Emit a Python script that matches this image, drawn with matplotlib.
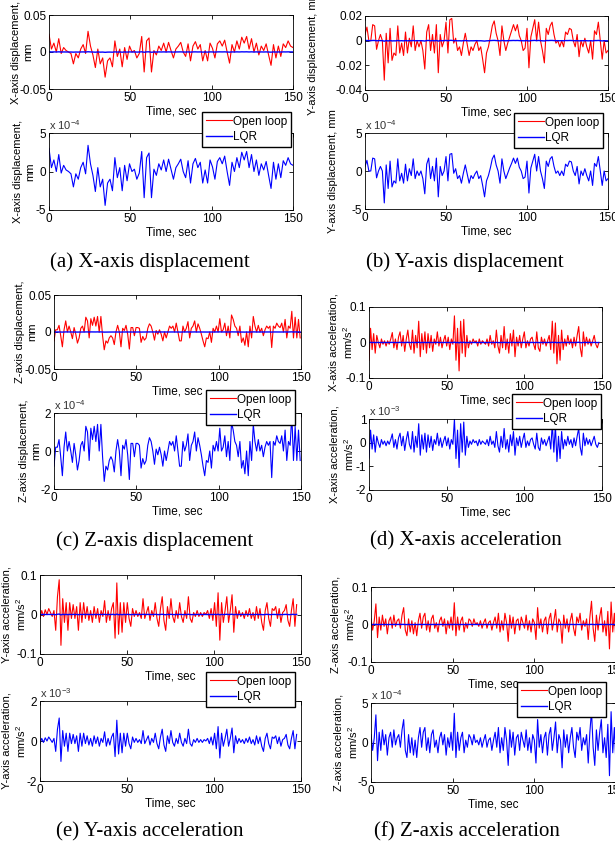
import numpy as np
import matplotlib
matplotlib.use('Agg')
import matplotlib.pyplot as plt

plt.rcParams['font.family'] = ['Liberation Sans', 'DejaVu Sans']
plt.rcParams['font.size'] = 8
plt.rcParams['axes.unicode_minus'] = False
plt.rcParams['mathtext.default'] = 'regular'

# --- data (open loop in 1e-3 units, LQR in 1e-4 / 1e-3 units) ---
open_xdisp_e3 = [24, 4, 12, 0, 18, -2, 6, 2, 0, -2,
                 -16, -2, -8, 4, 10, -2, 28, 8, -4, -21,
                 4, -16, -8, -34, -12, -8, -20, 15, -6, 4,
                 -20, 6, -10, 8, 0, 2, -8, -2, 21, -27,
                 15, 19, -27, 2, -4, 8, 2, 12, 0, 13,
                 2, -8, 4, 8, 13, 0, -6, 11, -12, 8,
                 14, 4, 10, -12, 2, -12, 12, 5, -8, 11,
                 15, 8, 16, 0, -15, 10, 0, 15, 4, 20,
                 12, 21, 4, 18, 0, 12, -4, 8, 2, 11,
                 -4, -18, 10, -8, 8, -6, 11, 6, 15, 8, 6]
lqr_xdisp_e4 = [3.0, 0.5, 1.5, 0.0, 2.2, -0.2, 0.8, 0.2, 0.0, -0.3,
                -2.0, -0.3, -1.0, 0.5, 1.2, -0.3, 3.4, 1.0, -0.5, -2.6,
                0.5, -2.0, -1.0, -4.4, -1.5, -1.0, -2.5, 1.8, -0.8, 0.5,
                -2.5, 0.8, -1.2, 1.0, 0.0, 0.3, -1.0, -0.2, 2.6, -3.4,
                1.8, 2.4, -3.4, 0.3, -0.5, 1.0, 0.2, 1.5, 0.0, 1.6,
                0.3, -1.0, 0.5, 1.0, 1.6, 0.0, -0.8, 1.4, -1.5, 1.0,
                1.7, 0.5, 1.2, -1.5, 0.2, -1.5, 1.5, 0.6, -1.0, 1.3,
                1.8, 1.0, 2.0, 0.0, -1.8, 1.2, 0.0, 1.8, 0.5, 2.5,
                1.5, 2.6, 0.5, 2.2, 0.0, 1.5, -0.5, 1.0, 0.2, 1.3,
                -0.5, -2.2, 1.2, -1.0, 1.0, -0.8, 1.4, 0.8, 1.8, 1.0, 0.8]

open_ydisp_e3 = [5, 11, 0, 0, 13, 12, -7, 0, 5, 0,
                 -32, 6, -18, 10, -16, -10, -12, 12, -10, -2,
                 -12, 7, -10, 2, -5, 12, -8, 0, -5, 0,
                 -8, -23, 7, 13, -8, 5, -10, 13, -26, 5,
                 -5, 0, 15, -10, 17, 18, -2, 2, -8, -5,
                 -12, -2, 6, -3, -12, -5, -8, -3, 0, -8,
                 -5, -15, -26, -10, -5, 3, 12, 16, 6, 0,
                 -12, 12, 0, -8, -2, 3, 8, 13, 8, 13,
                 4, 0, -8, -6, 10, -22, 3, 10, 17, 0,
                 15, 0, -8, -18, 10, 5, 12, 15, 5, -2,
                 0, -5, 0, -5, 7, 5, 10, 9, 0, -5,
                 5, -13, 0, -5, 2, -5, -10, 0, -15, 8,
                 5, 15, 0, -15, 0, -10, -8]
lqr_ydisp_e4 = [0.6, 1.4, 0, 0, 1.7, 1.6, -0.9, 0, 0.6, 0,
                -4.2, 0.8, -2.3, 1.3, -2.1, -1.3, -1.6, 1.6, -1.3, -0.3,
                -1.6, 0.9, -1.3, 0.3, -0.6, 1.6, -1.0, 0, -0.6, 0,
                -1.0, -3.0, 0.9, 1.7, -1.0, 0.6, -1.3, 1.7, -3.4, 0.6,
                -0.6, 0, 1.9, -1.3, 2.2, 2.3, -0.3, 0.3, -1.0, -0.6,
                -1.6, -0.3, 0.8, -0.4, -1.6, -0.6, -1.0, -0.4, 0, -1.0,
                -0.6, -1.9, -3.4, -1.3, -0.6, 0.4, 1.6, 2.1, 0.8, 0,
                -1.6, 1.6, 0, -1.0, -0.3, 0.4, 1.0, 1.7, 1.0, 1.7,
                0.5, 0, -1.0, -0.8, 1.3, -2.9, 0.4, 1.3, 2.2, 0,
                1.9, 0, -1.0, -2.3, 1.3, 0.6, 1.6, 1.9, 0.6, -0.3,
                0, -0.6, 0, -0.6, 0.9, 0.6, 1.3, 1.2, 0, -0.6,
                0.6, -1.7, 0, -0.6, 0.3, -0.6, -1.3, 0, -1.9, 1.0,
                0.6, 1.9, 0, -1.9, 0, -1.3, -1.0]

open_zdisp_e3 = [-12, 3, 3, 9, -5, -20, 3, 15, 0, 8,
                 0, -9, 6, -3, -15, -8, 5, 8, 0, 20,
                 15, -8, 18, 9, 20, 8, 21, 0, 21, -5,
                 -24, -12, -15, -8, -5, -8, -17, 0, 9, 0,
                 -20, 5, 2, 9, -3, -23, 6, 6, -5, 6,
                 6, 5, -14, -6, -11, -8, 5, 11, 8, 0,
                 -11, 2, -3, 3, -3, -12, 0, -8, 0, 8,
                 5, 8, 0, 12, 0, -12, -12, 8, 0, 5,
                 14, -8, 5, 8, 15, 0, 11, 5, -3, -12,
                 -20, -8, -9, 0, -14, 5, 0, 8, 0, 18,
                 0, 3, 12, -5, 8, -8, 23, 17, 8, 5,
                 -5, 8, -14, -8, -18, 0, -20, 8, -8, 21,
                 8, 0, 9, 0, 5, -5, 3, 8, 5, 8,
                 -21, 8, 5, 12, 8, 6, 12, 0, 17, -8,
                 8, 5, 28, -8, 20, -8, 17, -8]
lqr_zdisp_e4 = [-0.8, 0.2, 0.2, 0.6, -0.3, -1.3, 0.2, 1.0, 0.0, 0.5,
                0.0, -0.6, 0.4, -0.2, -1.0, -0.5, 0.3, 0.5, 0.0, 1.3,
                1.0, -0.5, 1.2, 0.6, 1.3, 0.5, 1.4, 0.0, 1.4, -0.3,
                -1.6, -0.8, -1.0, -0.5, -0.3, -0.5, -1.1, 0.0, 0.6, 0.0,
                -1.3, 0.3, 0.1, 0.6, -0.2, -1.5, 0.4, 0.4, -0.3, 0.4,
                0.4, 0.3, -0.9, -0.4, -0.7, -0.5, 0.3, 0.7, 0.5, 0.0,
                -0.7, 0.1, -0.2, 0.2, -0.2, -0.8, 0.0, -0.5, 0.0, 0.5,
                0.3, 0.5, 0.0, 0.8, 0.0, -0.8, -0.8, 0.5, 0.0, 0.3,
                0.9, -0.5, 0.3, 0.5, 1.0, 0.0, 0.7, 0.3, -0.2, -0.8,
                -1.3, -0.5, -0.6, 0.0, -0.9, 0.3, 0.0, 0.5, 0.0, 1.2,
                0.0, 0.2, 0.8, -0.3, 0.5, -0.5, 1.5, 1.1, 0.5, 0.3,
                -0.3, 0.5, -0.9, -0.5, -1.2, 0.0, -1.3, 0.5, -0.5, 1.4,
                0.5, 0.0, 0.6, 0.0, 0.3, -0.3, 0.2, 0.5, 0.3, 0.5,
                -1.4, 0.5, 0.3, 0.8, 0.5, 0.4, 0.8, 0.0, 1.1, -0.5,
                0.5, 0.3, 1.9, -0.5, 1.3, -0.5, 1.1, -0.5]

open_xacc_e3 = [-50, 40, -20, 25, -30, 20, 0, -15, 10, -5,
                5, -10, 5, -5, 10, 28, -15, 10, -20, 15,
                30, -10, 20, -25, 10, 35, -5, -20, 35, -30,
                20, -15, 60, -40, 25, -20, 30, -30, 25, -15,
                20, -25, 10, -5, 30, -10, 15, -15, 5, 20,
                -10, 15, -20, 10, -5, 75, -50, 40, -80, 60,
                -30, 65, -40, 20, -15, 5, -5, 10, 0, 5,
                -10, 10, -5, 5, 0, -5, 10, -10, 20, -5,
                5, -15, 35, -10, -30, 20, -15, 45, -20, 10,
                -30, 25, -10, 35, -40, 15, -10, 20, -15, 10,
                30, -15, 5, -10, 10, 15, -5, -20, 30, -15,
                -25, 15, -5, 10, -10, 5, 20, -20, 60, -30,
                55, -60, 20, -50, 35, -20, 10, -10, 20, -5,
                10, -15, 15, -10, 20, 45, -15, -40, 30, -10,
                15, -5, 10, -10, 5, 20, -5, -15, 0]
lqr_xacc_e3 = [-0.65, 0.53, -0.27, 0.33, -0.40, 0.27, 0.0, -0.20, 0.13, -0.07,
               0.07, -0.13, 0.07, -0.07, 0.13, 0.37, -0.20, 0.13, -0.27, 0.20,
               0.40, -0.13, 0.27, -0.33, 0.13, 0.47, -0.07, -0.27, 0.47, -0.40,
               0.27, -0.20, 0.80, -0.53, 0.33, -0.27, 0.40, -0.40, 0.33, -0.20,
               0.27, -0.33, 0.13, -0.07, 0.40, -0.13, 0.20, -0.20, 0.07, 0.27,
               -0.13, 0.20, -0.27, 0.13, -0.07, 1.00, -0.67, 0.53, -1.05, 0.80,
               -0.40, 0.87, -0.53, 0.27, -0.20, 0.07, -0.07, 0.13, 0.0, 0.07,
               -0.13, 0.13, -0.07, 0.07, 0.0, -0.07, 0.13, -0.13, 0.27, -0.07,
               0.07, -0.20, 0.47, -0.13, -0.40, 0.27, -0.20, 0.60, -0.27, 0.13,
               -0.40, 0.33, -0.13, 0.47, -0.53, 0.20, -0.13, 0.27, -0.20, 0.13,
               0.40, -0.20, 0.07, -0.13, 0.13, 0.20, -0.07, -0.27, 0.40, -0.20,
               -0.33, 0.20, -0.07, 0.13, -0.13, 0.07, 0.27, -0.27, 0.80, -0.40,
               0.73, -0.80, 0.27, -0.67, 0.47, -0.27, 0.13, -0.13, 0.27, -0.07,
               0.13, -0.20, 0.20, -0.13, 0.27, 0.60, -0.20, -0.53, 0.40, -0.13,
               0.20, -0.07, 0.13, -0.13, 0.07, 0.27, -0.07, -0.20, 0.0]

open_yacc_e3 = [-10, 10, -5, 12, 0, 15, 5, -5, 10, -40,
                45, 88, -78, 40, -20, 30, -40, 30, -10, 25,
                -10, 20, -40, 30, -20, 30, -10, 20, -15, 10,
                -20, 20, -10, 15, -20, 10, -5, 35, -20, 10,
                -15, 15, 30, -60, 80, -50, 30, -45, 30, -20,
                30, -10, -30, 15, -5, 10, -5, 5, -10, 40,
                -10, 5, 20, -15, 10, -5, 30, -10, -30, 15,
                45, -15, -40, 20, -10, 40, -5, -20, 10, -10,
                30, -5, -20, 10, -10, 45, -10, -20, 5, -5,
                10, -5, 5, -5, 5, 0, 10, -10, 15, -15,
                30, -30, 55, -65, 30, -20, 10, 45, -20, 10,
                50, -45, 20, -10, 10, -5, 5, -10, 10, -5,
                15, -10, 5, -15, 20, -10, 15, -20, -40, 10,
                30, -10, -30, 15, 10, 20, -10, 15, -20, 5,
                10, 25, -15, -30, 10, 40, -30, 25]
lqr_yacc_e3 = [-0.13, 0.13, -0.07, 0.16, 0.0, 0.2, 0.07, -0.07, 0.13, -0.52,
               0.59, 1.15, -1.02, 0.52, -0.26, 0.39, -0.52, 0.39, -0.13, 0.33,
               -0.13, 0.26, -0.52, 0.39, -0.26, 0.39, -0.13, 0.26, -0.2, 0.13,
               -0.26, 0.26, -0.13, 0.2, -0.26, 0.13, -0.07, 0.46, -0.26, 0.13,
               -0.2, 0.2, 0.39, -0.78, 1.04, -0.65, 0.39, -0.59, 0.39, -0.26,
               0.39, -0.13, -0.39, 0.2, -0.07, 0.13, -0.07, 0.07, -0.13, 0.52,
               -0.13, 0.07, 0.26, -0.2, 0.13, -0.07, 0.39, -0.13, -0.39, 0.2,
               0.59, -0.2, -0.52, 0.26, -0.13, 0.52, -0.07, -0.26, 0.13, -0.13,
               0.39, -0.07, -0.26, 0.13, -0.13, 0.59, -0.13, -0.26, 0.07, -0.07,
               0.13, -0.07, 0.07, -0.07, 0.07, 0.0, 0.13, -0.13, 0.2, -0.2,
               0.39, -0.39, 0.72, -0.85, 0.39, -0.26, 0.13, 0.59, -0.26, 0.13,
               0.65, -0.59, 0.26, -0.13, 0.13, -0.07, 0.07, -0.13, 0.13, -0.07,
               0.2, -0.13, 0.07, -0.2, 0.26, -0.13, 0.2, -0.26, -0.52, 0.13,
               0.39, -0.13, -0.39, 0.2, 0.13, 0.26, -0.13, 0.2, -0.26, 0.07,
               0.13, 0.33, -0.2, -0.39, 0.13, 0.52, -0.39, 0.33]

open_zacc_e3 = [15, -15, 10, 55, -35, 20, -15, 25, -5, 15,
                -25, 10, 20, -10, 25, -5, 10, 15, -10, 25,
                45, -15, -30, 15, -20, 10, -25, 5, -30, 10,
                30, -10, 20, 30, -15, 10, -20, 15, 25, -10,
                5, -20, 10, 20, -5, 15, -25, 10, -10, 20,
                -15, 58, -30, 20, -15, 10, 20, -20, 5, -10,
                15, 10, -5, 15, 0, 5, -5, 10, -10, 5,
                15, -10, 5, 10, -15, 5, 20, -10, 30, -20,
                10, -15, 30, 5, -45, 25, -10, 20, -25, 10,
                15, -15, 20, 5, -10, 25, -15, 10, -20, 15,
                5, -40, 45, -10, 15, -20, 10, 20, -25, 15,
                30, -15, 10, 40, -20, 15, 5, -50, 25, -10,
                15, -20, 10, 30, -10, -30, 20, 5, 30, -15,
                10, -5, 15, -40, 20, 62, -10, -45, 25, -15,
                20, 45, -20, 10, -30, 35, -65, 60, -20, 30, -45]
lqr_zacc_e4 = [1.0, -1.0, 0.6, 3.5, -2.3, 1.3, -1.0, 1.6, -0.3, 1.0,
               -1.6, 0.6, 1.3, -0.6, 1.6, -0.3, 0.6, 1.0, -0.6, 1.6,
               2.9, -1.0, -1.9, 1.0, -1.3, 0.6, -1.6, 0.3, -1.9, 0.6,
               1.9, -0.6, 1.3, 1.9, -1.0, 0.6, -1.3, 1.0, 1.6, -0.6,
               0.3, -1.3, 0.6, 1.3, -0.3, 1.0, -1.6, 0.6, -0.6, 1.3,
               -1.0, 3.7, -1.9, 1.3, -1.0, 0.6, 1.3, -1.3, 0.3, -0.6,
               1.0, 0.6, -0.3, 1.0, 0.0, 0.3, -0.3, 0.6, -0.6, 0.3,
               1.0, -0.6, 0.3, 0.6, -1.0, 0.3, 1.3, -0.6, 1.9, -1.3,
               0.6, -1.0, 1.9, 0.3, -2.9, 1.6, -0.6, 1.3, -1.6, 0.6,
               1.0, -1.0, 1.3, 0.3, -0.6, 1.6, -1.0, 0.6, -1.3, 1.0,
               0.3, -2.6, 2.9, -0.6, 1.0, -1.3, 0.6, 1.3, -1.6, 1.0,
               1.9, -1.0, 0.6, 2.6, -1.3, 1.0, 0.3, -3.2, 1.6, -0.6,
               1.0, -1.3, 0.6, 1.9, -0.6, -1.9, 1.3, 0.3, 1.9, -1.0,
               0.6, -0.3, 1.0, -2.6, 1.3, 4.0, -0.6, -2.9, 1.6, -1.0,
               1.3, 2.9, -1.3, 0.6, -1.9, 2.3, -4.2, 3.9, -1.3, 1.9, -2.9]

W, H = 615, 848
fig = plt.figure(figsize=(W / 100, H / 100), dpi=100)


def rect(l, t, r, b):
    return [l / W, 1 - b / H, (r - l) / W, (b - t) / H]


acc_lbl = 'acceleration,\nmm/s$^2$'
panels = [
    dict(op=open_xdisp_e3, lq=lqr_xdisp_e4, exp=-4, tend=150,
         top=(49, 15, 293, 89), bot=(49, 133, 293, 210),
         ytop=[-0.05, 0, 0.05], ybot=[-5, 0, 5],
         ylab='X-axis displacement,\nmm', labx=(22, 24), leg=(202, 112),
         cap='(a) X-axis displacement', capx=150, capy=262),
    dict(op=open_ydisp_e3, lq=lqr_ydisp_e4, exp=-4, tend=150,
         top=(365, 16, 608, 90), bot=(365, 133, 608, 209),
         ytop=[-0.04, -0.02, 0, 0.02], ybot=[-5, 0, 5],
         ylab='Y-axis displacement, mm', labx=(313, 333), leg=(514, 113),
         cap='(b) Y-axis displacement', capx=465, capy=262),
    dict(op=open_zdisp_e3, lq=lqr_zdisp_e4, exp=-4, tend=149.5,
         top=(54, 295, 301, 369), bot=(54, 413, 301, 489),
         ytop=[-0.05, 0, 0.05], ybot=[-2, 0, 2],
         ylab='Z-axis displacement,\nmm', labx=(26, 30), leg=(206, 390),
         cap='(c) Z-axis displacement', capx=155, capy=541),
    dict(op=open_xacc_e3, lq=lqr_xacc_e3, exp=-3, tend=148,
         top=(369, 307, 602, 378), bot=(369, 419, 602, 490),
         ytop=[-0.1, 0, 0.1], ybot=[-2, -1, 0, 1],
         ylab='X-axis ' + acc_lbl, labx=(342, 343), leg=(512, 394),
         cap='(d) X-axis acceleration', capx=466, capy=541),
    dict(op=open_yacc_e3, lq=lqr_yacc_e3, exp=-3, tend=147.5,
         top=(40, 575, 301, 654), bot=(40, 701, 301, 781),
         ytop=[-0.1, 0, 0.1], ybot=[-2, 0, 2],
         ylab='Y-axis ' + acc_lbl, labx=(15, 15), leg=(206, 672),
         cap='(e) Y-axis acceleration', capx=150, capy=832),
    dict(op=open_zacc_e3, lq=lqr_zacc_e4, exp=-4, tend=150,
         top=(371, 587, 616, 662), bot=(371, 703, 616, 782),
         ytop=[-0.1, 0, 0.1], ybot=[-5, 0, 5],
         ylab='Z-axis ' + acc_lbl, labx=(344, 347), leg=(517, 682),
         cap='(f) Z-axis acceleration', capx=467, capy=832),
]


def style(ax, yt):
    ax.set_xlim(0, 150)
    ax.set_xticks([0, 50, 100, 150])
    ax.set_ylim(yt[0], yt[-1])
    ax.set_yticks(yt)
    ax.set_yticklabels(['%g' % v for v in yt])
    ax.tick_params(direction='in', length=3, width=0.6, top=True, right=True,
                   pad=2, labelsize=8.5)
    for s in ax.spines.values():
        s.set_linewidth(0.6)
    ax.set_xlabel('Time, sec', labelpad=1, fontsize=8.5)


for p in panels:
    op = np.array(p['op']) * 1e-3
    lq = np.array(p['lq'])
    t_op = np.linspace(0, p['tend'], len(op))
    t_lq = np.linspace(0, p['tend'], len(lq))

    ax1 = fig.add_axes(rect(*p['top']))
    l_open, = ax1.plot(t_op, op, color='red', lw=0.8)
    l_lqr, = ax1.plot(t_lq, lq * 10.0 ** p['exp'], color='blue', lw=1.0)
    style(ax1, p['ytop'])

    ax2 = fig.add_axes(rect(*p['bot']))
    ax2.plot(t_lq, lq, color='blue', lw=0.8)
    style(ax2, p['ybot'])
    ax2.text(0.0, 1.01, 'x 10$^{%d}$' % p['exp'], transform=ax2.transAxes,
             ha='left', va='bottom', fontsize=8, color='#333333')

    for ax, lx, box in ((ax1, p['labx'][0], p['top']), (ax2, p['labx'][1], p['bot'])):
        yc = (box[1] + box[3]) / 2
        fig.text(lx / W, 1 - yc / H, p['ylab'], rotation=90, ha='center',
                 va='center', multialignment='center', fontsize=8)

    fig.legend(handles=[l_open, l_lqr], labels=['Open loop', 'LQR'],
               loc='upper left', bbox_to_anchor=(p['leg'][0] / W, 1 - p['leg'][1] / H),
               frameon=True, fancybox=False, edgecolor='black', framealpha=1,
               borderaxespad=0, handlelength=2.2, handletextpad=0.15,
               borderpad=0.3, labelspacing=0.3, fontsize=8.5)

    fig.text(p['capx'] / W, 1 - p['capy'] / H, p['cap'], ha='center',
             va='center', fontsize=15, family='Liberation Serif')

fig.savefig('out.png', dpi=100)
